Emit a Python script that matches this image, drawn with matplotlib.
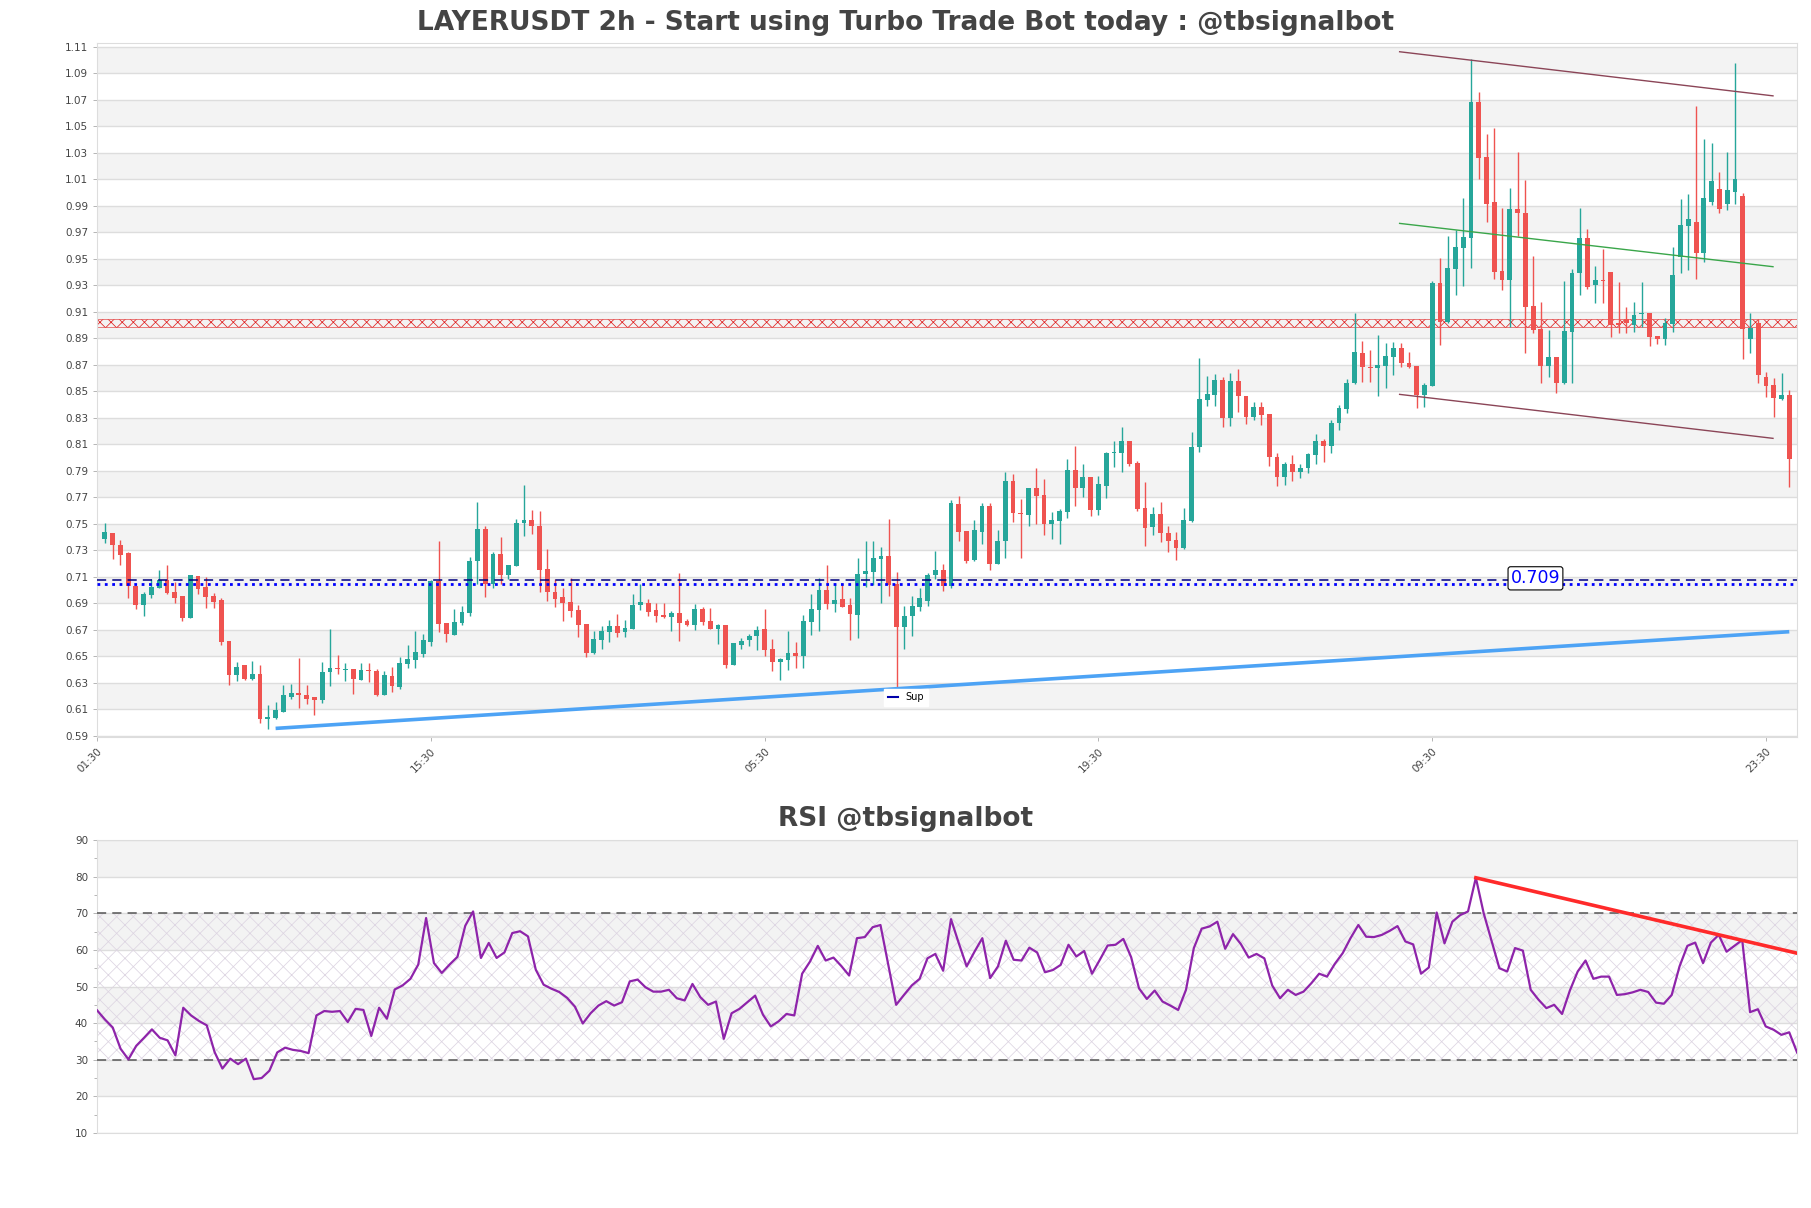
import matplotlib
matplotlib.use("Agg")
import matplotlib.pyplot as plt
from matplotlib.lines import Line2D
import numpy as np

# 2h candles, index 0 = 03:30 of the first day
opens = [.7382, .7432, .7341, .7279, .7030, .6889, .6964, .7017, .7077, .6984,
         .6952, .6791, .7105, .7022, .6954, .6921, .6614, .6355, .6436, .6330,
         .6367, .6028, .6036, .6079, .6192, .6225, .6205, .6192, .6167, .6380,
         .6411, .6398, .6406, .6323, .6391, .6389, .6210, .6350, .6267, .6444,
         .6475, .6518, .6606, .7071, .6752, .6661, .6752, .6827, .7222, .7461,
         .7046, .7272, .7114, .7179, .7504, .7531, .7486, .7159, .6988, .6945,
         .6908, .6850, .6744, .6525, .6626, .6686, .6731, .6686, .6706, .6887,
         .6903, .6850, .6814, .6794, .6827, .6767, .6737, .6857, .6767, .6706,
         .6736, .6430, .6588, .6626, .6656, .6706, .6555, .6455, .6475, .6525,
         .6505, .6762, .6852, .7001, .6895, .6933, .6887, .6812, .7121, .7136,
         .7235, .7255, .7046, .6724, .6807, .6875, .6920, .7114, .7154, .7033,
         .7650, .7443, .7230, .7441, .7637, .7197, .7368, .7821, .7582, .7569,
         .7770, .7720, .7499, .7524, .7592, .7906, .7770, .7856, .7604, .7788,
         .8032, .8035, .8128, .7959, .7619, .7474, .7574, .7431, .7380, .7318,
         .7519, .8082, .8437, .8475, .8586, .8299, .8581, .8467, .8309, .8379,
         .8329, .8002, .7851, .7952, .7889, .7919, .8022, .8123, .8090, .8258,
         .8367, .8560, .8789, .8686, .8674, .8695, .8758, .8825, .8711, .8691,
         .8472, .8543, .9320, .9026, .9423, .9584, .9660, 1.0686, 1.0271, .9926,
         .9411, .9340, .9874, .9848, .9147, .8970, .8691, .8762, .8560, .8950,
         .9391, .9655, .9303, .9340, .9398, .9013, .9043, .9001, .9081, .9089,
         .8918, .8893, .9008, .9516, .9745, .9780, .9547, .9931, 1.0025, .9914,
         1.0007, .9974, .8898, .9013, .8606, .8548, .8442, .8472]
highs = [.7508, .7432, .7379, .7286, .7030, .6985, .7085, .7148, .7186, .7060,
         .6952, .7115, .7105, .7097, .6977, .6942, .6614, .6456, .6436, .6464,
         .6436, .6129, .6154, .6285, .6292, .6486, .6285, .6192, .6456, .6708,
         .6511, .6448, .6406, .6448, .6448, .6406, .6386, .6418, .6494, .6582,
         .6694, .6669, .7075, .7373, .6752, .6857, .6877, .7247, .7667, .7481,
         .7290, .7398, .7189, .7536, .7793, .7604, .7594, .7310, .7084, .7013,
         .7091, .6887, .6744, .6689, .6731, .6777, .6819, .6777, .6970, .7046,
         .6933, .6903, .6903, .6845, .7129, .6782, .6895, .6870, .6862, .6745,
         .6736, .6600, .6638, .6669, .6731, .6857, .6630, .6487, .6689, .6606,
         .6812, .6970, .7091, .7190, .7051, .7051, .6938, .7240, .7371, .7373,
         .7323, .7537, .7139, .6882, .6958, .7013, .7129, .7297, .7197, .7683,
         .7708, .7443, .7531, .7657, .7657, .7453, .7894, .7876, .7687, .7770,
         .7921, .7838, .7592, .7612, .7989, .8090, .7952, .7856, .7864, .8045,
         .8128, .8228, .8128, .7977, .7813, .7624, .7662, .7481, .7436, .7617,
         .8190, .8749, .8618, .8631, .8611, .8636, .8669, .8467, .8417, .8422,
         .8329, .8035, .7969, .8019, .7952, .8035, .8178, .8140, .8286, .8397,
         .8593, .9090, .8877, .8812, .8925, .8865, .8869, .8868, .8794, .8691,
         .8565, .9335, .9504, .9672, .9718, .9957, 1.1013, 1.0762, 1.0442, 1.0490,
         .9881, 1.0032, 1.0304, 1.0095, .9521, .9172, .8963, .8762, .9335, .9421,
         .9881, .9723, .9446, .9574, .9398, .9323, .9134, .9177, .9323, .9089,
         .8918, .9051, .9592, .9949, .9989, 1.0653, 1.0404, 1.0372, 1.0153, 1.0304,
         1.0980, .9999, .9094, .9043, .8648, .8598, .8641, .8510]
lows = [.7354, .7236, .7186, .6939, .6858, .6800, .6939, .7017, .6972, .6904,
        .6763, .6790, .6967, .6866, .6866, .6582, .6285, .6310, .6318, .6318,
        .5998, .5953, .6028, .6079, .6180, .6109, .6141, .6059, .6150, .6275,
        .6368, .6310, .6217, .6323, .6305, .6200, .6210, .6230, .6255, .6413,
        .6410, .6492, .6580, .6681, .6611, .6661, .6737, .6807, .7046, .6950,
        .7013, .7046, .7084, .7179, .7411, .7423, .6988, .6920, .6870, .6764,
        .6794, .6648, .6492, .6518, .6555, .6606, .6643, .6643, .6706, .6852,
        .6802, .6762, .6787, .6694, .6618, .6730, .6701, .6737, .6706, .6593,
        .6410, .6430, .6555, .6578, .6548, .6505, .6392, .6317, .6397, .6412,
        .6412, .6662, .6688, .6857, .6832, .6870, .6625, .6638, .7026, .7036,
        .6899, .6958, .6254, .6555, .6651, .6845, .6882, .7086, .6996, .7016,
        .7373, .7205, .7222, .7348, .7154, .7197, .7240, .7516, .7240, .7486,
        .7499, .7416, .7386, .7348, .7544, .7632, .7700, .7562, .7569, .7692,
        .7931, .7894, .7934, .7599, .7330, .7418, .7365, .7285, .7230, .7310,
        .7511, .8040, .8392, .8392, .8233, .8241, .8347, .8253, .8286, .8246,
        .7934, .7788, .7796, .7826, .7844, .7881, .7952, .7964, .8032, .8211,
        .8334, .8555, .8573, .8568, .8467, .8525, .8623, .8686, .8674, .8372,
        .8385, .8543, .8850, .9013, .9227, .9295, .9428, 1.0100, .9781, .9345,
        .9265, .8988, .9672, .8787, .8938, .8565, .8611, .8490, .8553, .8560,
        .9227, .9270, .9164, .9164, .8913, .8938, .8938, .8950, .8988, .8845,
        .8857, .8850, .8950, .9390, .9416, .9345, .9479, .9906, .9848, .9868,
        .9914, .8742, .8787, .8560, .8459, .8304, .8434, .7780]
closes = [.7437, .7336, .7266, .7030, .6889, .6972, .7022, .7077, .6979, .6942,
          .6791, .7115, .7009, .6947, .6909, .6607, .6355, .6418, .6330, .6367,
          .6028, .6041, .6091, .6204, .6222, .6205, .6180, .6167, .6380, .6411,
          .6401, .6406, .6330, .6398, .6386, .6210, .6360, .6272, .6451, .6481,
          .6530, .6626, .7071, .6744, .6669, .6762, .6832, .7222, .7461, .7046,
          .7272, .7114, .7189, .7506, .7531, .7481, .7154, .6988, .6933, .6903,
          .6844, .6739, .6525, .6631, .6689, .6731, .6676, .6711, .6887, .6913,
          .6837, .6807, .6799, .6827, .6752, .6737, .6857, .6761, .6706, .6736,
          .6430, .6598, .6618, .6656, .6699, .6550, .6455, .6480, .6525, .6505,
          .6764, .6857, .7001, .6895, .6925, .6875, .6819, .7121, .7141, .7242,
          .7255, .7038, .6724, .6807, .6882, .6938, .7116, .7154, .7033, .7655,
          .7436, .7222, .7453, .7637, .7197, .7373, .7821, .7579, .7572, .7770,
          .7713, .7499, .7529, .7594, .7906, .7770, .7856, .7604, .7801, .8032,
          .8040, .8128, .7952, .7612, .7469, .7574, .7428, .7373, .7318, .7529,
          .8082, .8442, .8480, .8586, .8299, .8581, .8467, .8309, .8379, .8324,
          .8002, .7851, .7952, .7889, .7919, .8027, .8123, .8085, .8258, .8374,
          .8563, .8794, .8681, .8674, .8699, .8770, .8830, .8711, .8686, .8472,
          .8548, .9320, .9026, .9428, .9592, .9667, 1.0686, 1.0264, .9914, .9403,
          .9340, .9876, .9843, .9139, .8963, .8691, .8762, .8565, .8955, .9396,
          .9655, .9290, .9340, .9335, .9001, .9001, .9013, .9076, .9089, .8913,
          .8893, .9013, .9378, .9755, .9801, .9547, .9957, 1.0087, .9874, 1.0020,
          1.0100, .8968, .8978, .8623, .8540, .8447, .8472, .7987]

rsi = [43.5, 41.0, 38.8, 33.0, 30.1, 33.8, 36.0, 38.3, 36.0, 35.3,
       31.2, 44.2, 42.1, 40.6, 39.4, 32.1, 27.6, 30.3, 28.8, 30.3,
       24.7, 25.0, 27.0, 32.0, 33.3, 32.7, 32.4, 31.8, 42.1, 43.3,
       43.1, 43.3, 40.3, 43.9, 43.6, 36.5, 44.2, 41.2, 49.2, 50.3,
       52.1, 56.0, 68.7, 56.4, 53.7, 56.0, 58.1, 66.6, 70.5, 57.8,
       61.9, 57.8, 59.3, 64.6, 65.1, 63.7, 54.6, 50.5, 49.4, 48.5,
       46.9, 44.5, 39.9, 42.7, 44.8, 46.0, 44.8, 45.7, 51.4, 51.9,
       49.8, 48.6, 48.6, 49.1, 46.8, 46.2, 50.7, 47.1, 45.0, 45.9,
       35.7, 42.7, 43.9, 45.7, 47.5, 42.3, 39.1, 40.5, 42.5, 42.1,
       53.5, 56.8, 61.1, 57.1, 57.9, 55.6, 53.0, 63.2, 63.5, 66.2,
       66.8, 55.9, 45.0, 47.7, 50.3, 52.1, 57.7, 58.9, 54.3, 68.4,
       61.8, 55.5, 59.5, 63.2, 52.3, 55.5, 62.5, 57.3, 57.1, 60.6,
       59.3, 53.9, 54.5, 55.9, 61.4, 58.2, 59.7, 53.5, 57.3, 61.2,
       61.4, 63.0, 58.0, 49.5, 46.6, 48.9, 45.9, 44.8, 43.6, 49.1,
       60.5, 65.8, 66.4, 67.7, 60.3, 64.3, 61.6, 57.9, 58.9, 57.7,
       50.3, 46.8, 49.1, 47.7, 48.6, 50.9, 53.5, 52.7, 56.2, 59.1,
       63.2, 66.8, 63.6, 63.5, 64.1, 65.2, 66.5, 62.3, 61.5, 53.5,
       55.2, 70.2, 61.8, 67.7, 69.5, 70.5, 79.7, 70.0, 62.5, 55.0,
       54.1, 60.5, 59.8, 49.1, 46.4, 44.1, 45.0, 42.5, 48.9, 54.1,
       57.1, 52.1, 52.7, 52.7, 47.7, 47.9, 48.4, 49.1, 48.5, 45.6,
       45.3, 47.7, 55.5, 61.1, 62.0, 56.4, 62.0, 64.1, 59.5, 61.1,
       62.7, 43.0, 43.8, 39.1, 38.2, 36.8, 37.5, 32.0]

tick_pos = [-1, 42, 85, 128, 171, 214]
tick_labels = ["01:30", "15:30", "05:30", "19:30", "09:30", "23:30"]

# drawn levels / trend lines (x = candle index, y = price)
sup_x = [22, 217]
sup_y = [0.5955, 0.6685]
chan_x = [166.8, 214.9]
chan_top = [1.1064, 1.0731]
chan_mid = [0.9768, 0.9441]
chan_bot = [0.8477, 0.8145]
zone_lo, zone_hi = 0.8985, 0.9045
level_dash = 0.7077
level_dot = 0.7047
level_text = "0.709"
rsi_tr_x = [176, 217]
rsi_tr_y = [79.7, 59.1]

up_col = '#26a69a'
dn_col = '#ef5350'
txt_col = '#444444'
grid_col = '#dddddd'
band_col = '#f3f3f3'

plt.rcParams['hatch.linewidth'] = 0.55

fig = plt.figure(figsize=(18.11, 12.08), dpi=100)
ax = fig.add_axes([0.0536, 0.3899, 0.9387, 0.5745])
ax2 = fig.add_axes([0.0536, 0.0621, 0.9387, 0.2425])

# ---- price panel ----
for k in range(13):
    ax.axhspan(0.61 + 0.04 * k, 0.63 + 0.04 * k, color=band_col, zorder=0, lw=0)

x = np.arange(len(opens))
o = np.array(opens)
h = np.array(highs)
l = np.array(lows)
c = np.array(closes)
cols = np.where(c >= o, up_col, dn_col)
ax.vlines(x, l, h, colors=cols, lw=1, zorder=3)
body = np.maximum(np.abs(c - o), 0.0008)
ax.bar(x, body, bottom=np.minimum(o, c), width=0.62, color=cols, lw=0, zorder=4)

ax.axhspan(zone_lo, zone_hi, facecolor='none', edgecolor='#e02020', hatch='xxx', lw=0.4, zorder=2)
ax.axhline(level_dash, color='#000080', ls=(0, (6, 4)), lw=1.1, zorder=5)
ax.axhline(level_dot, color='#0000ff', ls=':', lw=2.0, zorder=5)
ax.text(184.3, 0.7088, level_text, color='#0000ff', fontsize=12.5, ha='center', va='center', zorder=7,
        bbox=dict(boxstyle='round,pad=0.15', fc='white', ec='black', lw=0.8))

ax.plot(sup_x, sup_y, color='#4da3f5', lw=2.6, zorder=5, solid_capstyle='butt')
ax.plot(chan_x, chan_top, color='#8b4557', lw=1, zorder=5)
ax.plot(chan_x, chan_mid, color='#3aa64a', lw=1, zorder=5)
ax.plot(chan_x, chan_bot, color='#8b4557', lw=1, zorder=5)

ax.set_xlim(-1, 218)
ax.set_ylim(0.589, 1.113)
ax.set_yticks(np.arange(0.59, 1.111, 0.02))
ax.yaxis.set_major_formatter(plt.FormatStrFormatter('%.2f'))
ax.grid(axis='y', color=grid_col, lw=1, zorder=1)
ax.set_axisbelow(True)
ax.set_xticks(tick_pos)
ax.set_xticklabels(tick_labels, rotation=45, ha='right', rotation_mode='anchor')
ax.tick_params(axis='both', labelsize=7.5, colors=txt_col, length=3, width=0.6)
ax.tick_params(axis='both', color='#aaaaaa')
for s in ax.spines.values():
    s.set_color(grid_col)

leg = ax.legend([Line2D([], [], color='#0000aa', lw=1.5)], ['Sup'], loc='center',
                bbox_to_anchor=(0.476, 0.057), fontsize=7, frameon=True, fancybox=False,
                edgecolor='white', framealpha=1, handlelength=1.0)
leg.set_zorder(8)

fig.text(0.5, 1 - 23 / 1208, "LAYERUSDT 2h - Start using Turbo Trade Bot today : @tbsignalbot",
         ha='center', va='center', fontsize=19, fontweight='bold', color=txt_col)

# ---- RSI panel ----
for b in (20, 40, 60, 80):
    ax2.axhspan(b, b + 10, color=band_col, zorder=0, lw=0)
ax2.axhspan(30, 70, facecolor='none', edgecolor='#ddd5e2', hatch='xx', lw=0, zorder=1)
ax2.axhline(70, color='#555555', ls=(0, (6, 4)), lw=1.1, zorder=3)
ax2.axhline(30, color='#555555', ls=(0, (6, 4)), lw=1.1, zorder=3)
ax2.plot(np.arange(len(rsi)), rsi, color='#8e24aa', lw=1.6, zorder=4)
ax2.plot(rsi_tr_x, rsi_tr_y, color='#ff2a2a', lw=2.6, zorder=5)

ax2.set_xlim(0, len(rsi) - 1)
ax2.set_ylim(10, 90)
ax2.set_yticks(range(10, 91, 10))
ax2.set_yticks(range(15, 90, 10), minor=True)
ax2.set_xticks([])
ax2.grid(axis='y', color=grid_col, lw=1, zorder=1)
ax2.set_axisbelow(True)
ax2.tick_params(axis='y', labelsize=7.5, colors=txt_col, length=3, width=0.6)
ax2.tick_params(axis='y', which='both', color='#aaaaaa')
ax2.tick_params(axis='y', which='minor', length=2)
for s in ax2.spines.values():
    s.set_color(grid_col)

fig.text(0.5, 1 - 819 / 1208, "RSI @tbsignalbot", ha='center', va='center',
         fontsize=19, fontweight='bold', color=txt_col)

fig.savefig("out.png", dpi=100)
